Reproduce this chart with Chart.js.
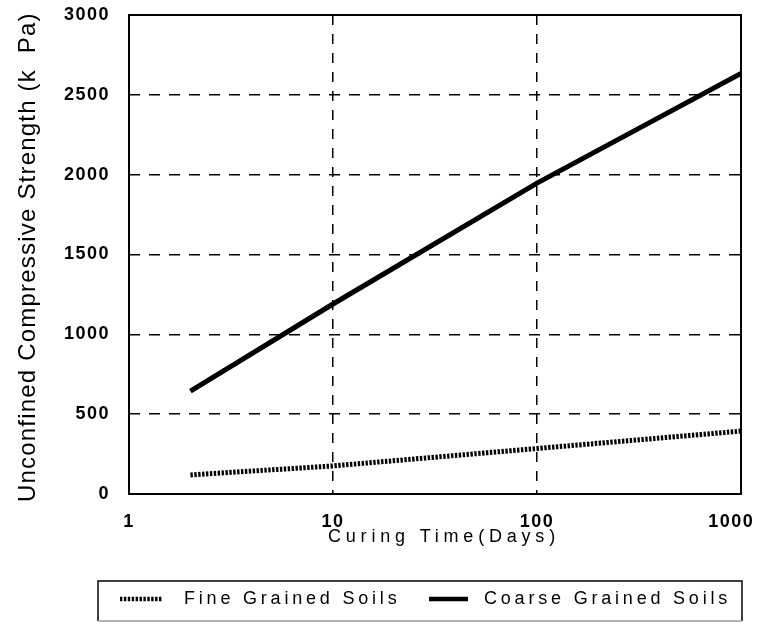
<!DOCTYPE html>
<html>
<head>
<meta charset="utf-8">
<script src="https://cdn.jsdelivr.net/npm/chart.js@4"></script>
<style>
  html, body { margin: 0; padding: 0; background: #fff; }
  canvas { display: block; }
</style>
</head>
<body>
<canvas id="c" width="765" height="623"></canvas>
<script>
// Curing time (days) and unconfined compressive strength (kPa)
const curingDays = [2, 10, 100, 1000];
const fineGrained = [119, 176, 285, 394];
const coarseGrained = [645, 1190, 1947, 2634];

const xTickValues = [1, 10, 100, 1000];
const yMin = 0, yMax = 3000, yStep = 500;

const seriesLabels = ['Fine Grained Soils', 'Coarse Grained Soils'];
const xTitle = 'Curing Time(Days)';
const yTitle = 'Unconfined Compressive Strength (k  Pa)';

const FONT = '"Liberation Sans", Arial, Helvetica, sans-serif';
const NBSP = '\u00a0';

const toPoints = (xs, ys) => xs.map((x, i) => ({ x, y: ys[i] }));

// Frame, axis titles and boxed legend
const decorations = {
  id: 'decorations',
  beforeDraw(chart) {
    chart.ctx.letterSpacing = '1.5px';
  },
  afterDraw(chart) {
    const { ctx, chartArea: a } = chart;
    ctx.save();
    ctx.setLineDash([]);
    ctx.strokeStyle = '#000';
    ctx.fillStyle = '#000';

    // plot frame
    ctx.lineWidth = 2;
    ctx.strokeRect(a.left, a.top, a.right - a.left, a.bottom - a.top);

    // x-axis title
    ctx.font = '18px ' + FONT;
    ctx.letterSpacing = '4.8px';
    ctx.textAlign = 'left';
    ctx.textBaseline = 'alphabetic';
    ctx.fillText(xTitle, a.left + 199, a.bottom + 48);

    // y-axis title
    ctx.save();
    ctx.translate(35, a.bottom + 8);
    ctx.rotate(-Math.PI / 2);
    ctx.font = '24px ' + FONT;
    ctx.letterSpacing = '1.2px';
    ctx.fillText(yTitle, 0, 0);
    ctx.restore();

    // legend box
    const box = { left: 98, top: a.bottom + 87, right: a.right + 1, bottom: a.bottom + 127 };
    ctx.lineWidth = 1.5;
    ctx.strokeStyle = '#000';
    ctx.beginPath();
    ctx.moveTo(box.left, box.bottom);
    ctx.lineTo(box.left, box.top);
    ctx.lineTo(box.right, box.top);
    ctx.lineTo(box.right, box.bottom);
    ctx.stroke();
    ctx.strokeStyle = '#9a9a9a';
    ctx.beginPath();
    ctx.moveTo(box.left, box.bottom);
    ctx.lineTo(box.right, box.bottom);
    ctx.stroke();

    // legend entries
    const entries = [
      { x0: 120, x1: 162, tx: 184 },
      { x0: 429, x1: 468, tx: 484 }
    ];
    const midY = box.top + 18;
    chart.data.datasets.forEach((ds, i) => {
      const e = entries[i];
      ctx.save();
      ctx.strokeStyle = ds.borderColor;
      ctx.lineWidth = ds.borderWidth - 0.5;
      ctx.lineCap = 'butt';
      ctx.setLineDash(ds.borderDash || []);
      ctx.beginPath();
      ctx.moveTo(e.x0, midY);
      ctx.lineTo(e.x1, midY);
      ctx.stroke();
      ctx.restore();
      ctx.font = '18px ' + FONT;
      ctx.letterSpacing = '3.8px';
      ctx.textAlign = 'left';
      ctx.textBaseline = 'alphabetic';
      ctx.fillText(ds.label, e.tx, box.top + 23);
    });
    ctx.restore();
  }
};

new Chart(document.getElementById('c'), {
  type: 'line',
  data: {
    datasets: [
      {
        label: seriesLabels[0],
        data: toPoints(curingDays, fineGrained),
        borderColor: '#000',
        borderWidth: 5,
        borderDash: [2.4, 1.5],
        borderCapStyle: 'butt',
        pointRadius: 0,
        tension: 0,
        fill: false
      },
      {
        label: seriesLabels[1],
        data: toPoints(curingDays, coarseGrained),
        borderColor: '#000',
        borderWidth: 5,
        pointRadius: 0,
        tension: 0,
        fill: false
      }
    ]
  },
  options: {
    responsive: false,
    animation: false,
    devicePixelRatio: 1,
    layout: { padding: { left: 0, top: 15, right: 24, bottom: 0 } },
    plugins: { legend: { display: false }, tooltip: { enabled: false } },
    scales: {
      x: {
        type: 'logarithmic',
        min: xTickValues[0],
        max: xTickValues[xTickValues.length - 1],
        afterBuildTicks: s => { s.ticks = xTickValues.map(v => ({ value: v })); },
        afterFit: s => { s.height = 129; s.paddingLeft = 0; s.paddingRight = 0; },
        grid: { color: '#000', lineWidth: 1.5, drawTicks: false },
        border: { display: false, dash: [10, 9] },
        ticks: {
          padding: 17,
          color: '#000',
          maxRotation: 0,
          autoSkip: false,
          font: { family: FONT, size: 18, weight: 'bold' },
          callback: v => v === xTickValues[xTickValues.length - 1]
            ? String(v) + NBSP + NBSP + NBSP
            : String(v)
        }
      },
      y: {
        min: yMin,
        max: yMax,
        afterFit: s => { s.width = 129; s.paddingTop = 0; s.paddingBottom = 0; },
        grid: { color: '#000', lineWidth: 1.5, drawTicks: false },
        border: { display: false, dash: [11, 9] },
        ticks: {
          stepSize: yStep,
          padding: 19,
          color: '#000',
          font: { family: FONT, size: 18, weight: 'bold' },
          callback: v => String(v)
        }
      }
    }
  },
  plugins: [decorations]
});
</script>
</body>
</html>
